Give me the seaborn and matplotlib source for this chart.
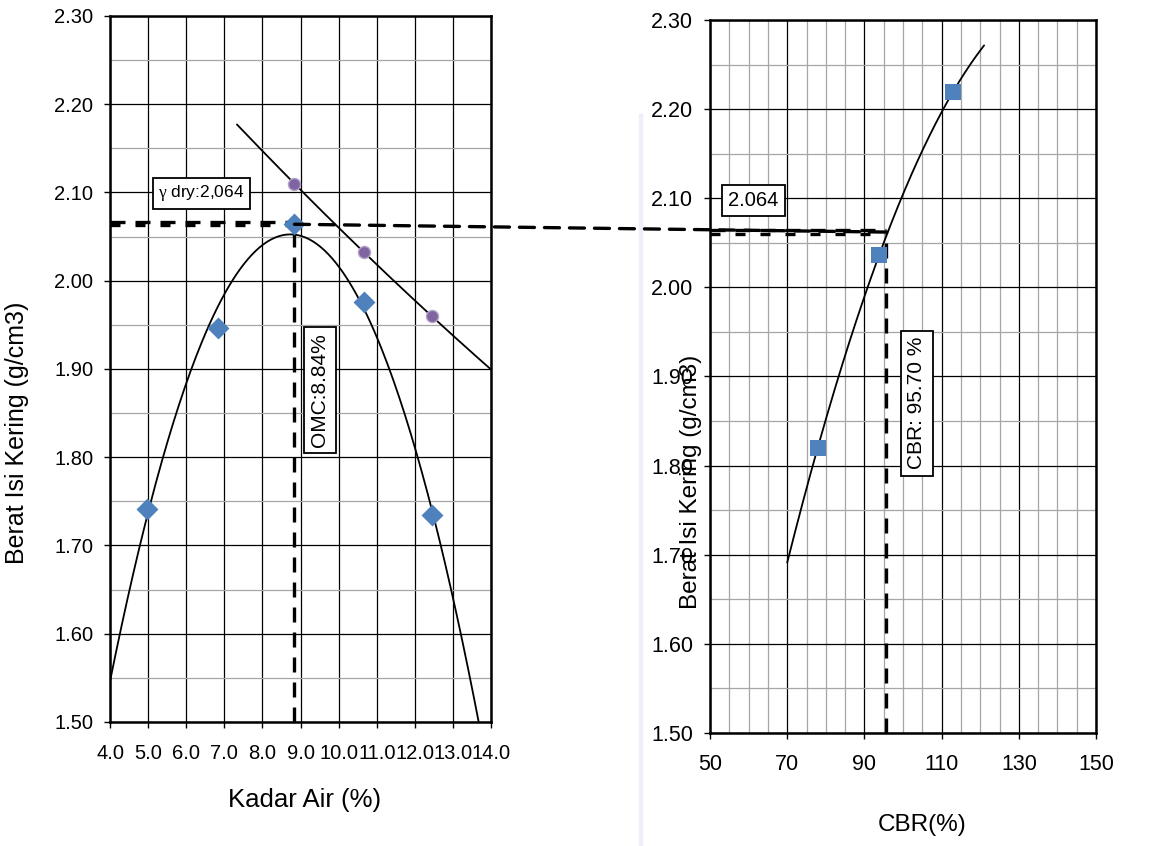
import numpy as np
import pandas as pd
import seaborn as sns
import matplotlib.pyplot as plt
from matplotlib.ticker import MultipleLocator, FormatStrFormatter
from matplotlib.patches import ConnectionPatch, Rectangle

# hasil uji pemadatan (kompaksi)
kadar_air = [4.96, 6.83, 8.84, 10.67, 12.44]
berat_isi = [1.741, 1.947, 2.064, 1.976, 1.735]

# titik zero air void
zav_air = [8.84, 10.67, 12.44]
zav_isi = [2.110, 2.032, 1.960]

# hasil uji CBR
cbr = [77.9, 93.8, 112.9]
cbr_isi = [1.820, 2.036, 2.219]

omc = 8.84
gamma_dry = 2.064
cbr_hasil = 95.70

cbr_ticks = [50, 70, 90, 110, 130, 150]

# rentang garis trend seperti di lembar excel
range_kompaksi = (4.0, 14.0)
range_zav = (7.33, 14.0)
range_cbr = (70.0, 121.0)

sns.set_style("ticks")
plt.rcParams['font.family'] = ['Liberation Sans', 'DejaVu Sans']
plt.rcParams['mathtext.fontset'] = 'custom'
plt.rcParams['mathtext.rm'] = 'Liberation Serif'
for k in ['text.color', 'axes.labelcolor', 'xtick.color', 'ytick.color']:
    plt.rcParams[k] = 'black'

BLUE = '#4F81BD'
PURPLE = '#8064A2'


def trend(x, y, rng, order=2):
    # polynomial trendline, like the excel chart
    coef = np.polyfit(x, y, order)
    xs = np.linspace(rng[0], rng[1], 200)
    return pd.DataFrame({'x': xs, 'y': np.polyval(coef, xs)})


def style_axes(ax, xmin, xmax, xfmt, tsize, xpad):
    ax.set_xlim(xmin, xmax)
    ax.set_ylim(1.50, 2.30)
    ax.xaxis.set_major_formatter(FormatStrFormatter(xfmt))
    ax.yaxis.set_major_locator(MultipleLocator(0.10))
    ax.yaxis.set_major_formatter(FormatStrFormatter('%.2f'))
    ax.yaxis.set_minor_locator(MultipleLocator(0.05))
    ax.grid(which='major', color='black', lw=0.9, zorder=0)
    ax.grid(which='minor', color='#a6a6a6', lw=0.9, zorder=0)
    ax.tick_params(which='major', length=4, width=1, labelsize=tsize, direction='out')
    ax.tick_params(axis='y', pad=8)
    ax.tick_params(axis='x', pad=xpad)
    ax.tick_params(which='minor', length=0)
    for s in ax.spines.values():
        s.set_visible(True)
        s.set_linewidth(1.8)
        s.set_color('black')
    ax.set_axisbelow(True)


fig = plt.figure(figsize=(11.67, 8.46), dpi=100)
ax1 = fig.add_axes([0.0943, 0.1466, 0.3265, 0.8345])
ax2 = fig.add_axes([0.6084, 0.1336, 0.3308, 0.8428])

# faint stripe from the original slide background
fig.patches.append(Rectangle((0.5475, 0.0), 0.003, 0.865, transform=fig.transFigure,
                             color='#efeffb', zorder=0))

ax1.xaxis.set_major_locator(MultipleLocator(1.0))
style_axes(ax1, 4.0, 14.0, '%.1f', 14.5, 12)

ax2.set_xticks(cbr_ticks)
ax2.xaxis.set_minor_locator(MultipleLocator(5))
style_axes(ax2, 50, 150, '%d', 15.5, 11)

dash_kw = dict(color='black', lw=2.4, dashes=(4.5, 3.0))

# ---- kiri: kurva pemadatan ----
kurva = trend(kadar_air, berat_isi, range_kompaksi)
sns.lineplot(data=kurva, x='x', y='y', ax=ax1, color='black', lw=1.3, sort=False, zorder=3)
zav = trend(zav_air, zav_isi, range_zav)
sns.lineplot(data=zav, x='x', y='y', ax=ax1, color='black', lw=1.3, sort=False, zorder=3)

ax1.plot([range_kompaksi[0], omc], [gamma_dry + 0.002] * 2, **dash_kw, zorder=4)
ax1.plot([range_kompaksi[0], omc], [gamma_dry - 0.001] * 2, color='black', lw=2.4,
         dashes=(3.0, 4.5), zorder=4)
ax1.plot([omc, omc], [1.50, gamma_dry - 0.008], **dash_kw, zorder=4)

sns.scatterplot(x=zav_air, y=zav_isi, ax=ax1, marker='o', s=75, color=PURPLE,
                edgecolor='#b3a2c7', linewidth=1, zorder=5)
sns.scatterplot(x=kadar_air, y=berat_isi, ax=ax1, marker='D', s=125, color=BLUE,
                edgecolor=BLUE, linewidth=0, zorder=5)

box = dict(boxstyle='square,pad=0.3', fc='white', ec='black', lw=1.3)
ax1.text(6.4, 2.099, r'$\mathrm{\gamma}$ dry:2,064', ha='center', va='center', fontsize=12.5,
         bbox=box, zorder=6)
ax1.text(9.51, 1.876, 'OMC:8.84%', ha='center', va='center', rotation=90, fontsize=15,
         bbox=box, zorder=6)

ax1.set_xlabel('Kadar Air (%)', fontsize=18.5)
ax1.xaxis.set_label_coords(0.51, -0.11)
ax1.xaxis.label.set_verticalalignment('center')
ax1.set_ylabel('Berat Isi Kering (g/cm3)', fontsize=18)
ax1.yaxis.set_label_coords(-0.244, 0.41)
ax1.yaxis.label.set_verticalalignment('center')

# ---- kanan: kurva CBR ----
kurva_cbr = trend(cbr, cbr_isi, range_cbr)
sns.lineplot(data=kurva_cbr, x='x', y='y', ax=ax2, color='black', lw=1.3, sort=False, zorder=3)

ax2.plot([50, cbr_hasil], [gamma_dry] * 2, **dash_kw, zorder=4)
ax2.plot([50, cbr_hasil], [gamma_dry - 0.004] * 2, color='black', lw=2.4,
         dashes=(3.0, 4.5), zorder=4)
ax2.plot([cbr_hasil, cbr_hasil], [1.50, gamma_dry], **dash_kw, zorder=4)

sns.scatterplot(x=cbr, y=cbr_isi, ax=ax2, marker='s', s=120, color=BLUE,
                edgecolor=BLUE, linewidth=0, zorder=5)

ax2.text(61.3, 2.0975, '2.064', ha='center', va='center', fontsize=14.5, bbox=box, zorder=6)
ax2.text(103.6, 1.870, 'CBR: 95.70 %', ha='center', va='center', rotation=90, fontsize=15,
         bbox=box, zorder=6)

ax2.set_xlabel('CBR(%)', fontsize=17.5)
ax2.xaxis.set_label_coords(0.549, -0.129)
ax2.xaxis.label.set_verticalalignment('center')
ax2.set_ylabel('Berat Isi Kering (g/cm3)', fontsize=17.5)
ax2.yaxis.set_label_coords(-0.049, 0.352)
ax2.yaxis.label.set_verticalalignment('center')
ax2.yaxis.label.set_zorder(10)

# garis penghubung gamma dry dari grafik kiri ke kanan
con = ConnectionPatch(xyA=(omc, gamma_dry), coordsA=ax1.transData,
                      xyB=(cbr_hasil, gamma_dry - 0.002), coordsB=ax2.transData,
                      color='black', lw=2.4, linestyle=(0, (4.5, 3.0)), zorder=4)
fig.add_artist(con)

fig.savefig('out.png', dpi=100)
